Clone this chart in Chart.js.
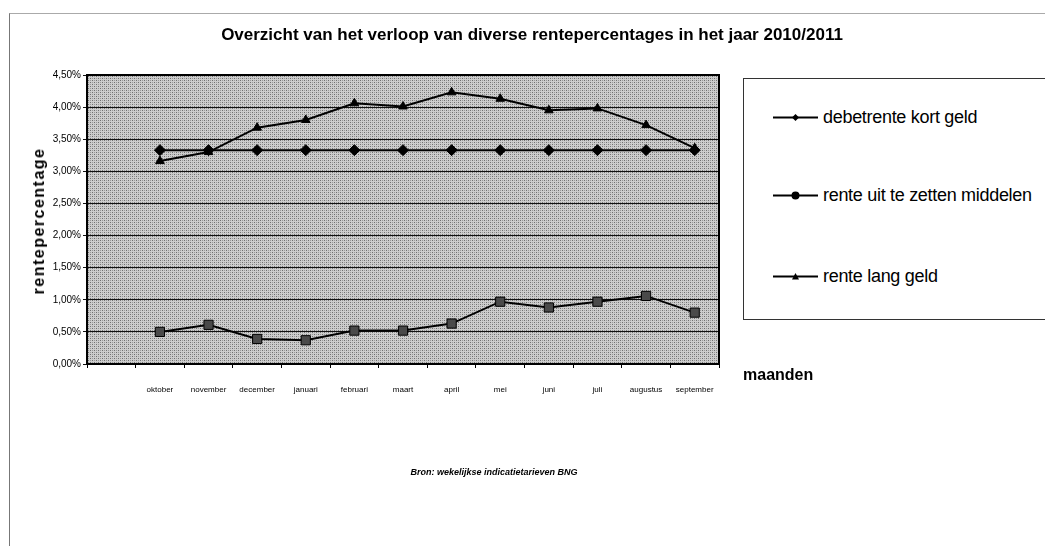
<!DOCTYPE html>
<html>
<head>
<meta charset="utf-8">
<script src="https://cdn.jsdelivr.net/npm/chart.js@4"></script>
<style>
  html, body { margin: 0; padding: 0; background: #fff; }
  #wrap { position: relative; width: 1045px; height: 546px; overflow: hidden; font-family: "Liberation Sans", Arial, sans-serif; color: #000; }
  #frame { position: absolute; left: 9px; top: 13px; right: -2px; bottom: -2px; border-left: 1px solid #777; border-top: 1px solid #aaa; }
  #chartBox { position: absolute; left: 0; top: 0; width: 1045px; height: 546px; }
  .title { position: absolute; left: 0; width: 1064px; top: 25px; text-align: center; font-weight: bold; font-size: 17px; }
  .ytitle { position: absolute; left: 39px; top: 221px; transform: translate(-50%, -50%) rotate(-90deg); white-space: nowrap; font-weight: bold; font-size: 16px; letter-spacing: 1.5px; }
  .xtitle { position: absolute; left: 743px; top: 366px; font-weight: bold; font-size: 16px; }
  .legend { position: absolute; left: 743px; top: 78px; width: 320px; height: 240px; border: 1px solid #333; background: #fff; }
  .legend .item { position: absolute; left: 29px; display: flex; align-items: center; font-size: 18px; letter-spacing: -0.3px; white-space: nowrap; transform: translateY(-50%); }
  .legend svg { margin-right: 5px; }
  .source { position: absolute; left: 0; width: 988px; top: 467px; text-align: center; font-size: 9px; font-weight: bold; font-style: italic; }
</style>
</head>
<body>
<div id="wrap">
  <div id="frame"></div>
  <div id="chartBox"><canvas id="chart"></canvas></div>
  <div class="title">Overzicht van het verloop van diverse rentepercentages in het jaar 2010/2011</div>
  <div class="ytitle">rentepercentage</div>
  <div class="xtitle">maanden</div>
  <div class="legend" id="legend"></div>
  <div class="source">Bron: wekelijkse indicatietarieven BNG</div>
</div>
<script>
  const months = ['oktober', 'november', 'december', 'januari', 'februari', 'maart',
                  'april', 'mei', 'juni', 'juli', 'augustus', 'september'];
  const debetKort = [3.33, 3.33, 3.33, 3.33, 3.33, 3.33, 3.33, 3.33, 3.33, 3.33, 3.33, 3.33];
  const uitTeZetten = [0.50, 0.61, 0.39, 0.37, 0.52, 0.52, 0.63, 0.97, 0.88, 0.97, 1.06, 0.80];
  const langGeld = [3.16, 3.30, 3.68, 3.80, 4.06, 4.01, 4.23, 4.13, 3.95, 3.98, 3.72, 3.36];
  const seriesNames = ['debetrente kort geld', 'rente uit te zetten middelen', 'rente lang geld'];
  const yTicks = { min: 0, max: 4.5, step: 0.5 };

  // empty first slot on the axis, as in the original sheet
  const labels = [''].concat(months);
  const pad = arr => [null].concat(arr);

  function makePattern() {
    const c = document.createElement('canvas');
    c.width = 4; c.height = 4;
    const g = c.getContext('2d');
    g.fillStyle = '#cdcdcd';
    g.fillRect(0, 0, 4, 4);
    g.fillStyle = '#707070';
    g.fillRect(0, 0, 1, 1); g.fillRect(2, 2, 1, 1);
    g.fillStyle = '#9a9a9a';
    g.fillRect(2, 0, 1, 1); g.fillRect(0, 2, 1, 1);
    return g.createPattern(c, 'repeat');
  }

  const plotFrame = {
    id: 'plotFrame',
    beforeDraw(chart) {
      const a = chart.chartArea, ctx = chart.ctx;
      ctx.save();
      ctx.fillStyle = makePattern();
      ctx.fillRect(a.left, a.top, a.right - a.left, a.bottom - a.top);
      ctx.restore();
    },
    afterDraw(chart) {
      const a = chart.chartArea, ctx = chart.ctx;
      ctx.save();
      ctx.strokeStyle = '#000';
      ctx.lineWidth = 2;
      ctx.strokeRect(a.left, a.top, a.right - a.left, a.bottom - a.top);
      ctx.restore();
    }
  };

  const tickFont = { family: 'Liberation Sans', size: 10 };

  new Chart(document.getElementById('chart'), {
    type: 'line',
    data: {
      labels,
      datasets: [
        {
          label: seriesNames[0], data: pad(debetKort),
          borderColor: '#000', borderWidth: 2, pointStyle: 'rectRot', pointRadius: 5.5,
          pointBackgroundColor: '#000', pointBorderColor: '#000', pointBorderWidth: 1
        },
        {
          label: seriesNames[1], data: pad(uitTeZetten),
          borderColor: '#000', borderWidth: 2, pointStyle: 'rect', pointRadius: 6.5,
          pointBackgroundColor: '#4a4a4a', pointBorderColor: '#000', pointBorderWidth: 1
        },
        {
          label: seriesNames[2], data: pad(langGeld),
          borderColor: '#000', borderWidth: 2, pointStyle: 'triangle', pointRadius: 5,
          pointBackgroundColor: '#000', pointBorderColor: '#000', pointBorderWidth: 1
        }
      ]
    },
    options: {
      responsive: true,
      maintainAspectRatio: false,
      animation: false,
      layout: { padding: { left: 20, top: 75, right: 326, bottom: 142 } },
      plugins: { legend: { display: false }, tooltip: { enabled: false } },
      scales: {
        x: {
          offset: true,
          afterFit: s => { s.height = 40; },
          grid: { offset: true, drawOnChartArea: false, color: '#000', tickLength: 4 },
          border: { color: '#000', width: 2 },
          ticks: { color: '#000', font: { family: 'Liberation Sans', size: 8 }, padding: 17, maxRotation: 0, autoSkip: false }
        },
        y: {
          min: yTicks.min, max: yTicks.max,
          afterFit: s => { s.width = 67; },
          grid: { color: '#111', lineWidth: 1, tickLength: 4 },
          border: { color: '#000', width: 2 },
          ticks: {
            stepSize: yTicks.step, color: '#000', font: tickFont, padding: 2,
            callback: v => v.toFixed(2).replace('.', ',') + '%'
          }
        }
      }
    },
    plugins: [plotFrame]
  });

  // legend, laid out like the original spreadsheet box
  const markerSvg = [
    '<polygon points="22.5,3.5 26,7 22.5,10.5 19,7" fill="#000"/>',
    '<circle cx="22.5" cy="7" r="4" fill="#000"/>',
    '<polygon points="22.5,3.5 26,10 19,10" fill="#000"/>'
  ];
  const legendY = [38, 116, 197];
  document.getElementById('legend').innerHTML = seriesNames.map((n, i) => `
    <div class="item" style="top:${legendY[i]}px">
      <svg width="45" height="14"><line x1="0" y1="7" x2="45" y2="7" stroke="#000" stroke-width="2"/>${markerSvg[i]}</svg>${n}
    </div>`).join('');
</script>
</body>
</html>
